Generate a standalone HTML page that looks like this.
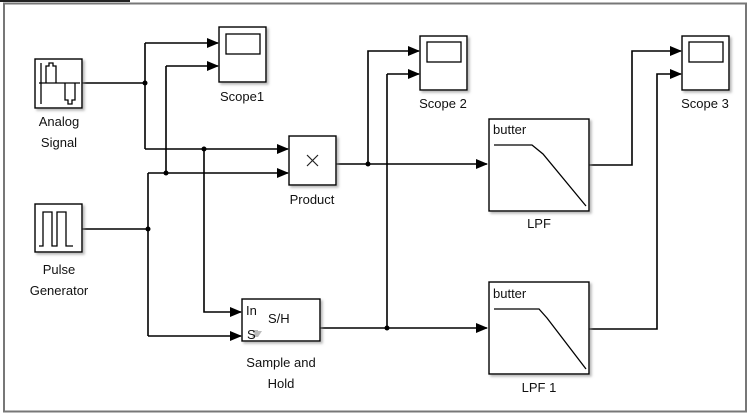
<!DOCTYPE html>
<html><head><meta charset="utf-8"><style>
html,body{margin:0;padding:0;background:#fff;}
svg{display:block;}
text{font-family:"Liberation Sans",Arial,sans-serif;font-size:13px;fill:#111;}
</style></head><body>
<svg width="750" height="414" viewBox="0 0 750 414" xmlns="http://www.w3.org/2000/svg">
<defs>
<marker id="a" markerWidth="12" markerHeight="10" refX="11" refY="5" orient="auto" markerUnits="userSpaceOnUse">
<path d="M0,0 L12,5 L0,10 z" fill="#000"/>
</marker>
<filter id="sh" x="-10%" y="-10%" width="130%" height="130%"><feDropShadow dx="2" dy="2" stdDeviation="1.2" flood-color="#888" flood-opacity="0.6"/></filter>
</defs>
<rect x="0" y="0" width="130" height="2" fill="#222"/>
<rect x="4" y="3.5" width="742" height="408" fill="#fff" stroke="#777" stroke-width="2"/>

<g fill="none" stroke="#000" stroke-width="1.6">
<path d="M82,83 H145"/>
<path d="M145,43 V149"/>
<path d="M145,43 H218" marker-end="url(#a)"/>
<path d="M145,149 H288" marker-end="url(#a)"/>
<path d="M166,66 H218" marker-end="url(#a)"/>
<path d="M166,66 V173"/>
<path d="M148,173 H288" marker-end="url(#a)"/>
<path d="M148,173 V336"/>
<path d="M82,229 H148"/>
<path d="M148,336 H241" marker-end="url(#a)"/>
<path d="M204,149 V312 H241" marker-end="url(#a)"/>
<path d="M336,164 H487" marker-end="url(#a)"/>
<path d="M368,164 V51 H419" marker-end="url(#a)"/>
<path d="M387,74 H419" marker-end="url(#a)"/>
<path d="M387,74 V328"/>
<path d="M320,328 H487" marker-end="url(#a)"/>
<path d="M589,165 H632 V51 H681" marker-end="url(#a)"/>
<path d="M589,329 H657 V74 H681" marker-end="url(#a)"/>
</g>
<g fill="#000">
<circle cx="145" cy="83" r="2.5"/><circle cx="204" cy="149" r="2.5"/>
<circle cx="166" cy="173" r="2.5"/><circle cx="148" cy="229" r="2.5"/>
<circle cx="368" cy="164" r="2.5"/><circle cx="387" cy="328" r="2.5"/>
</g>

<g fill="#fff" stroke="#000" stroke-width="1.4" filter="url(#sh)">
<rect x="35" y="59" width="47" height="49"/>
<rect x="35" y="204" width="47" height="48"/>
<rect x="219" y="27" width="47" height="55"/>
<rect x="289" y="136" width="47" height="49"/>
<rect x="420" y="36" width="47" height="54"/>
<rect x="682" y="36" width="47" height="54"/>
<rect x="242" y="299" width="78" height="42"/>
<rect x="489" y="119" width="100" height="92"/>
<rect x="489" y="282" width="100" height="92"/>
</g>

<g fill="none" stroke="#000" stroke-width="1.3">
<path d="M41,63 V104"/>
<path d="M39,83 H80"/>
<path d="M46,83 V66 H49 V63 H53 V66 H56 V83"/>
<path d="M65,83 V100 H68 V104 H72 V100 H75 V83"/>
<path d="M39,246 H43 V212 H52 V246 H57 V212 H66 V246 H73"/>
<rect x="226" y="34" width="34" height="20"/>
<rect x="427" y="42" width="34" height="20"/>
<rect x="689" y="42" width="34" height="20"/>
<path d="M494,145 H532 L543,154 L586,206"/>
<path d="M494,309 H539 L547,318 L586,369"/>
</g>
<path d="M307,155 L318,166 M318,155 L307,166" stroke="#222" stroke-width="1.2"/>
<path d="M252,337 L256,331 H262 L258,337 Z" fill="#bbb"/>
<rect x="253" y="330" width="5" height="3" fill="#bbb"/>

<text x="246" y="315">In</text>
<text x="247" y="339" font-size="11">S</text>
<text x="268" y="323">S/H</text>
<text x="493" y="134">butter</text>
<text x="493" y="298">butter</text>

<g text-anchor="middle">
<text x="59" y="126">Analog</text>
<text x="59" y="147">Signal</text>
<text x="59" y="274">Pulse</text>
<text x="59" y="295">Generator</text>
<text x="242" y="101">Scope1</text>
<text x="312" y="204">Product</text>
<text x="443" y="108">Scope 2</text>
<text x="705" y="108">Scope 3</text>
<text x="281" y="367">Sample and</text>
<text x="281" y="388">Hold</text>
<text x="539" y="228">LPF</text>
<text x="539" y="392">LPF 1</text>
</g>
</svg>
</body></html>
